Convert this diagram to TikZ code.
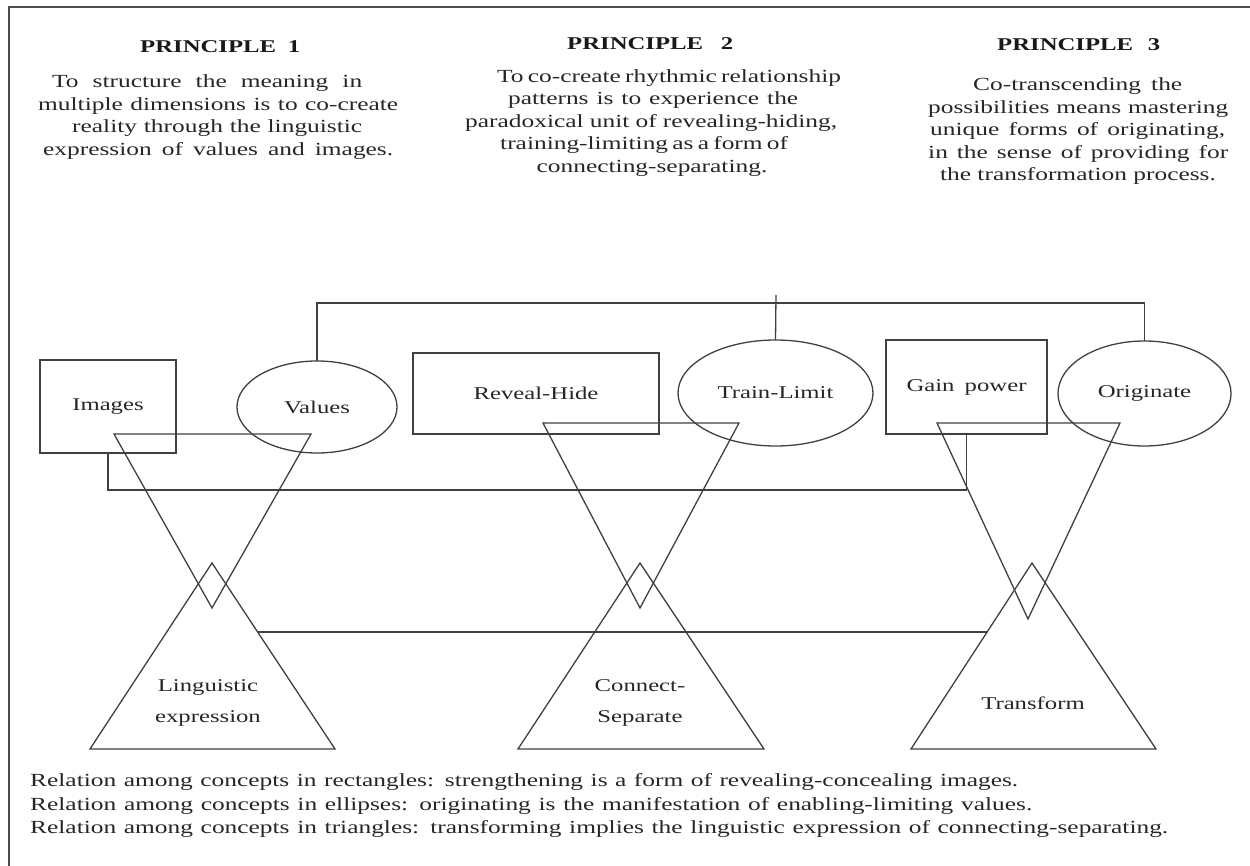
\documentclass[tikz,border=0pt]{standalone}
\usepackage{fontspec}
\setmainfont{Liberation Serif}[FakeStretch=1.373]
\usetikzlibrary{shapes.geometric}
\newcommand\fitline[2]{\hbox to #1{#2}}
\begin{document}
\begin{tikzpicture}[x=1pt,y=-1pt,
  ln/.style={draw=black!75, line width=1.3pt},
  frame/.style={draw=black!70, line width=1.6pt},
  rbox/.style={ln, rectangle, inner sep=0pt, outer sep=0pt, text=black!85, font=\fontsize{18}{22}\selectfont},
  ebox/.style={ln, ellipse, inner sep=0pt, outer sep=0pt, text=black!85, font=\fontsize{18}{22}\selectfont},
  lab/.style={text=black!85, inner sep=0pt, align=center, font=\fontsize{18}{31}\selectfont},
  head/.style={font=\fontsize{18}{22}\selectfont\bfseries, text=black!90, inner sep=0pt, anchor=base west},
  txt/.style={font=\fontsize{18.5}{22}\selectfont, text=black!85, inner sep=0pt, anchor=base west},
  ctxt/.style={txt, anchor=base}
]
\useasboundingbox (0,0) rectangle (1250,866);
\draw[frame] (9,866) -- (9,7) -- (1250,7);

\node[head] (h1) at (140,53) {\fitline{160pt}{PRINCIPLE 1}};
\node[head] (h2) at (567,50) {\fitline{166pt}{PRINCIPLE 2}};
\node[head] (h3) at (997,51) {\fitline{163pt}{PRINCIPLE 3}};

\node[txt] (p1a) at (52,88) {\fitline{310pt}{To structure the meaning in}};
\node[txt] (p1b) at (38,110.5) {\fitline{360pt}{multiple dimensions is to co-create}};
\node[txt] (p1c) at (72,133) {\fitline{290pt}{reality through the linguistic}};
\node[txt] (p1d) at (43,155.5) {\fitline{350pt}{expression of values and images.}};

\node[txt] (p2a) at (497,82.5) {\fitline{330pt}{To co-create rhythmic relationship}};
\node[txt] (p2b) at (508,105) {\fitline{290pt}{patterns is to experience the}};
\node[txt] (p2c) at (465,127.5) {\fitline{372pt}{paradoxical unit of revealing-hiding,}};
\node[txt] (p2d) at (500,150) {\fitline{283pt}{training-limiting as a form of}};
\node[ctxt] (p2e) at (652,172.5) {connecting-separating.};

\node[txt] (p3a) at (973,91) {\fitline{209pt}{Co-transcending the}};
\node[txt] (p3b) at (928,113.5) {\fitline{300pt}{possibilities means mastering}};
\node[txt] (p3c) at (930,136) {\fitline{295pt}{unique forms of originating,}};
\node[txt] (p3d) at (928,158.5) {\fitline{300pt}{in the sense of providing for}};
\node[ctxt] (p3e) at (1078,181) {the transformation process.};

\node[rbox, minimum width=136pt, minimum height=93pt] (img) at (108,406.5) {Images};
\node[ebox, minimum width=160pt, minimum height=92pt] (val) at (317,407) {Values};
\node[rbox, minimum width=246pt, minimum height=81pt] (rev) at (536,393.5) {Reveal-Hide};
\node[ebox, minimum width=195pt, minimum height=106pt] (trn) at (775.5,393) {Train-Limit};
\node[rbox, minimum width=161pt, minimum height=94pt] (gain) at (966.5,387) {\fitline{120pt}{Gain power}};
\node[ebox, minimum width=173pt, minimum height=105pt] (orig) at (1144.5,393.5) {Originate};

\coordinate (v1l) at (114,434); \coordinate (v1r) at (311,434); \coordinate (v1b) at (212,608);
\coordinate (u1a) at (212,563); \coordinate (u1l) at (90,749); \coordinate (u1r) at (335,749);
\coordinate (v2l) at (543,423); \coordinate (v2r) at (739,423); \coordinate (v2b) at (640,608);
\coordinate (u2a) at (640,563); \coordinate (u2l) at (518,749); \coordinate (u2r) at (764,749);
\coordinate (v3l) at (937,423); \coordinate (v3r) at (1120,423); \coordinate (v3b) at (1028,619);
\coordinate (u3a) at (1032,563); \coordinate (u3l) at (911,749); \coordinate (u3r) at (1156,749);

\draw[ln] (v1l) -- (v1r) -- (v1b) -- cycle;
\draw[ln] (u1a) -- (u1l) -- (u1r) -- cycle;
\draw[ln] (v2l) -- (v2r) -- (v2b) -- cycle;
\draw[ln] (u2a) -- (u2l) -- (u2r) -- cycle;
\draw[ln] (v3l) -- (v3r) -- (v3b) -- cycle;
\draw[ln] (u3a) -- (u3l) -- (u3r) -- cycle;

\node[lab] (l1) at (208,703) {Linguistic\\expression};
\node[lab] (l2) at (640,703) {Connect-\\Separate};
\node[lab] (l3) at (1033,703) {Transform};

\draw[ln] (val.north) -- ++(0,-58) -| (orig.north);
\coordinate (stub) at (776,295);
\draw[ln] (stub) -- (trn.north);
\draw[ln] (img.south) -- ++(0,37) -| (gain.south);
\path (u1a) -- (u1r) coordinate[pos=0.371] (b1);
\path (u3a) -- (u3l) coordinate[pos=0.371] (b3);
\draw[ln] (b1) -- (b3);

\node[txt] (n1) at (30,786) {\fitline{988pt}{Relation among concepts in rectangles: strengthening is a form of revealing-concealing images.}};
\node[txt] (n2) at (30,810) {\fitline{1002pt}{Relation among concepts in ellipses: originating is the manifestation of enabling-limiting values.}};
\node[txt] (n3) at (30,833) {\fitline{1138pt}{Relation among concepts in triangles: transforming implies the linguistic expression of connecting-separating.}};
\end{tikzpicture}
\end{document}
